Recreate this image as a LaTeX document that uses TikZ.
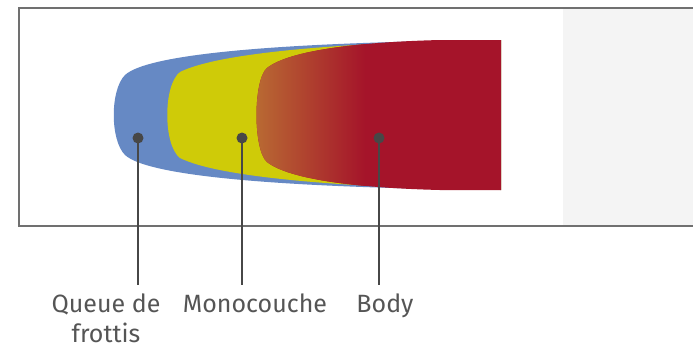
\documentclass[tikz,border=0pt]{standalone}
\usepackage{fontspec}
\setmainfont{Fira Sans}
\definecolor{queueblue}{HTML}{6689C4}
\definecolor{monoyellow}{HTML}{CFCB08}
\definecolor{bodyred}{HTML}{A5142A}
\definecolor{bodyorange}{HTML}{B96B33}
\definecolor{framegray}{HTML}{707070}
\definecolor{panelgray}{HTML}{F4F4F4}
\definecolor{pingray}{HTML}{474747}
\definecolor{labelgray}{HTML}{555555}
\tikzset{
  pin/.style={circle, fill=pingray, inner sep=0pt, minimum size=11pt},
  pinline/.style={draw=pingray, line width=2.5pt},
  zonelabel/.style={text=labelgray, anchor=north, inner sep=0pt, align=center,
    font=\fontsize{25}{30}\selectfont}
}
\begin{document}
\begin{tikzpicture}[x=1pt, y=-1pt]
		\useasboundingbox (0,0) rectangle (693,349);
		\fill[panelgray] (563,8) rectangle (693,226);
		\draw[framegray, line width=1.5pt] (693,8) -- (19,8) -- (19,226) -- (693,226);
		\fill[queueblue] (501,40) .. controls (300,42) and (150,52) .. (125,75)
			.. controls (110,90) and (110,140) .. (125,155)
			.. controls (150,178) and (300,188) .. (501,190) -- cycle;
		\fill[monoyellow] (501,40) .. controls (350,42) and (220,52) .. (180,72)
			.. controls (163,85) and (163,145) .. (180,158)
			.. controls (220,178) and (350,188) .. (501,190) -- cycle;
		\begin{scope}
			\clip (501,40) -- (440,40) .. controls (360,42) and (290,50) .. (267,68)
				.. controls (253,80) and (253,150) .. (267,162)
				.. controls (290,180) and (360,188) .. (440,190) -- (501,190) -- cycle;
			\fill[bodyred] (250,35) rectangle (505,195);
			\shade[left color=bodyorange, right color=bodyred] (254,35) rectangle (365,195);
		\end{scope}
		\node[pin] (pinqueue) at (138,138) {};
		\node[pin] (pinmono) at (242,138) {};
		\node[pin] (pinbody) at (379,138) {};
		\coordinate (endqueue) at (138,285);
		\coordinate (endmono) at (242,285);
		\coordinate (endbody) at (379,285);
		\draw[pinline] (pinqueue.center) -- (endqueue);
		\draw[pinline] (pinmono.center) -- (endmono);
		\draw[pinline] (pinbody.center) -- (endbody);
		\node[zonelabel] (lblqueue) at (106,294) {Queue de\\frottis};
		\node[zonelabel] (lblmono) at (255,294) {Monocouche};
		\node[zonelabel] (lblbody) at (385,294) {Body};
	\end{tikzpicture}
\end{document}
